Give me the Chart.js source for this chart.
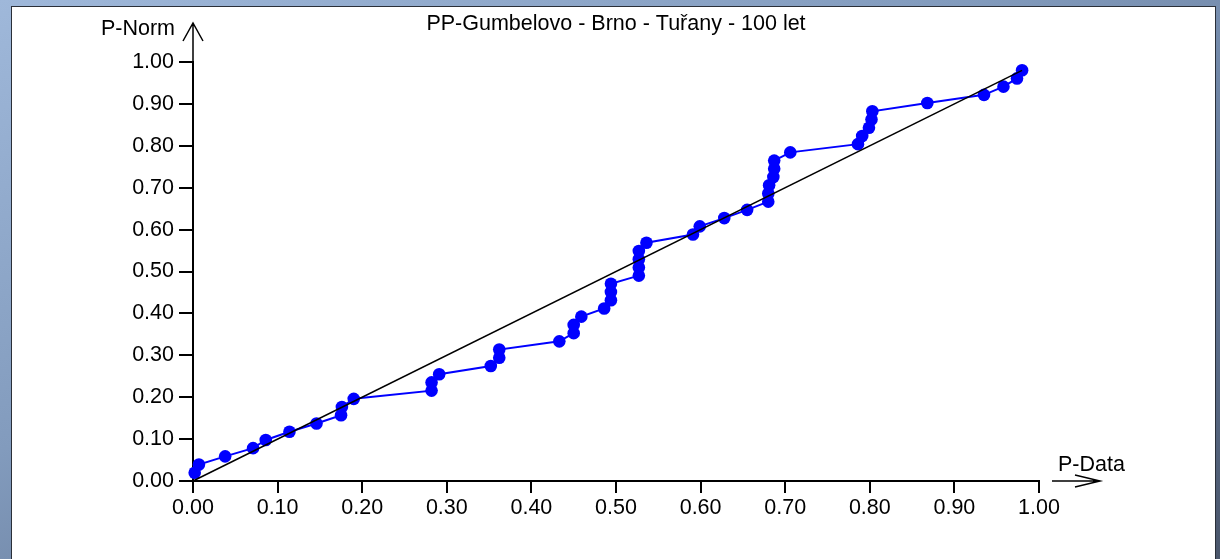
<!DOCTYPE html>
<html>
<head>
<meta charset="utf-8">
<title>PP-Gumbelovo - Brno - Tuřany - 100 let</title>
<script src="https://cdn.jsdelivr.net/npm/chart.js@4.4.0/dist/chart.umd.min.js"></script>
<style>
  html, body { margin: 0; padding: 0; }
  body {
    width: 1220px; height: 559px; overflow: hidden; position: relative;
    background: linear-gradient(155deg, #9fb8da 0%, #829bbd 40%, #5f7290 75%, #4a566b 100%);
  }
  #panel {
    position: absolute; left: 11px; top: 6px; width: 1203px; height: 560px;
    background: #fff; border: 1px solid #2a2f38;
  }
  #pp { position: absolute; left: 0; top: 0; }
</style>
</head>
<body>
<div id="panel"></div>
<canvas id="pp" width="1220" height="559"></canvas>
<script>
// Chart texts
const chartTitle = 'PP-Gumbelovo - Brno - Tuřany - 100 let';
const xName = 'P-Data';
const yName = 'P-Norm';

// Tick values (both axes)
const tickValues = [0, 0.1, 0.2, 0.3, 0.4, 0.5, 0.6, 0.7, 0.8, 0.9, 1.0];

// Empirical points, sorted (P-Data on x, P-Norm on y)
const pData = [
  0.002, 0.007, 0.038, 0.071, 0.086, 0.114, 0.146, 0.175, 0.176, 0.190,
  0.282, 0.282, 0.291, 0.352, 0.362, 0.362, 0.433, 0.450, 0.450, 0.459,
  0.486, 0.494, 0.494, 0.494, 0.527, 0.527, 0.527, 0.527, 0.536, 0.591,
  0.599, 0.628, 0.655, 0.680, 0.680, 0.681, 0.686, 0.687, 0.687, 0.706,
  0.786, 0.791, 0.799, 0.802, 0.803, 0.868, 0.935, 0.958, 0.974, 0.980,
];
const pNorm = [
  0.0196, 0.0392, 0.0588, 0.0784, 0.0980, 0.1176, 0.1373, 0.1569, 0.1765, 0.1961,
  0.2157, 0.2353, 0.2549, 0.2745, 0.2941, 0.3137, 0.3333, 0.3529, 0.3725, 0.3922,
  0.4118, 0.4314, 0.4510, 0.4706, 0.4902, 0.5098, 0.5294, 0.5490, 0.5686, 0.5882,
  0.6078, 0.6275, 0.6471, 0.6667, 0.6863, 0.7059, 0.7255, 0.7451, 0.7647, 0.7843,
  0.8039, 0.8235, 0.8431, 0.8627, 0.8824, 0.9020, 0.9216, 0.9412, 0.9608, 0.9804,
];

// Reference diagonal
const diagX = [0, 0.98];
const diagY = [0, 0.98];

const FONT = 'Liberation Sans, Arial, sans-serif';
const FONT_SIZE = 21.5;

// title, axis names and arrows
const decorations = {
  id: 'decorations',
  afterDraw(chart) {
    const { ctx, chartArea: a } = chart;
    ctx.save();
    ctx.fillStyle = '#000';
    ctx.strokeStyle = '#000';
    ctx.lineWidth = 1.5;
    ctx.font = `${FONT_SIZE}px ${FONT}`;

    ctx.textAlign = 'center';
    ctx.textBaseline = 'alphabetic';
    ctx.fillText(chartTitle, 616, 30);

    ctx.textAlign = 'right';
    ctx.fillText(yName, 175, 35);
    ctx.textAlign = 'left';
    ctx.fillText(xName, 1058, 471);

    // y arrow
    ctx.beginPath();
    ctx.moveTo(a.left, a.top);
    ctx.lineTo(a.left, 23);
    ctx.moveTo(a.left - 10, 41);
    ctx.lineTo(a.left, 23);
    ctx.lineTo(a.left + 10, 41);
    ctx.stroke();

    // x arrow
    ctx.beginPath();
    ctx.moveTo(1052, a.bottom);
    ctx.lineTo(1100, a.bottom);
    ctx.moveTo(1075, a.bottom - 6);
    ctx.lineTo(1100, a.bottom);
    ctx.lineTo(1075, a.bottom + 6);
    ctx.stroke();
    ctx.restore();
  },
};

const axisCommon = {
  type: 'linear',
  min: 0,
  max: 1,
  afterBuildTicks: (scale) => {
    scale.ticks = tickValues.map((v) => ({ value: v }));
  },
  border: { display: true, color: '#000', width: 2 },
  grid: {
    drawOnChartArea: false,
    drawTicks: true,
    color: '#000',
    lineWidth: 2,
  },
};

new Chart(document.getElementById('pp'), {
  type: 'scatter',
  data: {
    datasets: [
      {
        data: diagX.map((x, i) => ({ x, y: diagY[i] })),
        showLine: true,
        borderColor: '#000',
        borderWidth: 1.5,
        pointRadius: 0,
        clip: false,
        order: 0,
      },
      {
        data: pData.map((x, i) => ({ x, y: pNorm[i] })),
        showLine: true,
        borderColor: '#0000ff',
        borderWidth: 2,
        backgroundColor: '#0000ff',
        pointBackgroundColor: '#0000ff',
        pointBorderWidth: 0,
        pointRadius: 6.3,
        clip: false,
        order: 1,
      },
    ],
  },
  options: {
    responsive: false,
    animation: false,
    devicePixelRatio: 1,
    layout: {
      padding: { left: 0, top: 62, right: 181, bottom: 40 },
    },
    scales: {
      x: {
        ...axisCommon,
        afterFit: (scale) => { scale.height = 38; },
        grid: { ...axisCommon.grid, tickLength: 12 },
        ticks: {
          color: '#000',
          font: { family: FONT, size: FONT_SIZE },
          padding: 2,
          maxRotation: 0,
          autoSkip: false,
          callback: (v) => v.toFixed(2),
        },
      },
      y: {
        ...axisCommon,
        afterFit: (scale) => { scale.width = 193; },
        grid: { ...axisCommon.grid, tickLength: 14 },
        ticks: {
          color: '#000',
          font: { family: FONT, size: FONT_SIZE },
          padding: 5,
          autoSkip: false,
          callback: (v) => v.toFixed(2),
        },
      },
    },
    plugins: {
      legend: { display: false },
      tooltip: { enabled: false },
    },
  },
  plugins: [decorations],
});
</script>
</body>
</html>
